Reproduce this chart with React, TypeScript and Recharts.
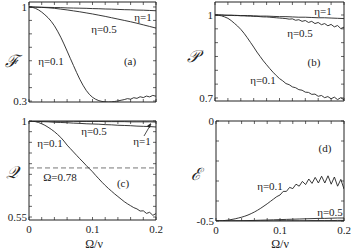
import React from 'react';
import { LineChart, Line, XAxis, YAxis, ReferenceArea, ReferenceLine } from 'recharts';

// x grids (Ω/ν)
const xs = [0, 0.01, 0.02, 0.03, 0.04, 0.05, 0.06, 0.07, 0.08, 0.09, 0.1, 0.11, 0.12, 0.13, 0.14, 0.15, 0.16, 0.17, 0.18, 0.19, 0.2];
const xsFine = [
  0, 0.005, 0.01, 0.015, 0.02, 0.025, 0.03, 0.035, 0.04, 0.045, 0.05, 0.055, 0.06, 0.065, 0.07, 0.075, 0.08, 0.085, 0.09, 0.095,
  0.1, 0.105, 0.11, 0.115, 0.12, 0.125, 0.13, 0.135, 0.14, 0.145, 0.15, 0.155, 0.16, 0.165, 0.17, 0.175, 0.18, 0.185, 0.19, 0.195, 0.2,
];
const xTicks = [0, 0.02, 0.04, 0.06, 0.08, 0.1, 0.12, 0.14, 0.16, 0.18, 0.2];
const xTickLabels: [number, string][] = [[0, '0'], [0.1, '0.1'], [0.2, '0.2']];

// (a) F
const aEta1 = [1, 0.999, 0.998, 0.997, 0.996, 0.995, 0.993, 0.992, 0.991, 0.99, 0.988, 0.987, 0.985, 0.984, 0.982, 0.98, 0.979, 0.977, 0.976, 0.974, 0.972];
const aEta05 = [1, 0.999, 0.997, 0.994, 0.99, 0.984, 0.978, 0.971, 0.964, 0.956, 0.948, 0.939, 0.93, 0.92, 0.91, 0.9, 0.89, 0.879, 0.867, 0.855, 0.843];
const aEta01 = [
  1, 0.998, 0.99, 0.978, 0.962, 0.942, 0.92, 0.893, 0.86, 0.82, 0.775, 0.725, 0.672, 0.618, 0.565, 0.512, 0.462, 0.418, 0.38, 0.35,
  0.328, 0.313, 0.303, 0.297, 0.294, 0.293, 0.294, 0.297, 0.301, 0.306, 0.311, 0.318, 0.314, 0.325, 0.32, 0.332, 0.326, 0.337, 0.331, 0.342, 0.336,
];
const aTicks = [0.3, 0.4, 0.5, 0.6, 0.7, 0.8, 0.9, 1];

// (b) P
const bEta1 = [1, 1, 0.999, 0.999, 0.998, 0.998, 0.997, 0.996, 0.996, 0.995, 0.994, 0.994, 0.993, 0.992, 0.992, 0.991, 0.99, 0.99, 0.989, 0.988, 0.987];
const bEta05 = [
  1, 1, 1, 0.999, 0.999, 0.999, 0.998, 0.998, 0.997, 0.997, 0.996, 0.996, 0.995, 0.995, 0.994, 0.993, 0.993, 0.992, 0.991, 0.99,
  0.989, 0.988, 0.987, 0.985, 0.986, 0.981, 0.983, 0.977, 0.98, 0.973, 0.977, 0.969, 0.973, 0.965, 0.969, 0.961, 0.966, 0.957, 0.962, 0.951, 0.956,
];
const bEta01 = [
  1, 0.999, 0.997, 0.993, 0.988, 0.98, 0.97, 0.96, 0.948, 0.934, 0.918, 0.901, 0.884, 0.866, 0.85, 0.834, 0.82, 0.806, 0.793, 0.781,
  0.77, 0.762, 0.752, 0.748, 0.74, 0.737, 0.73, 0.728, 0.721, 0.72, 0.713, 0.714, 0.706, 0.709, 0.701, 0.705, 0.697, 0.703, 0.694, 0.701, 0.693,
];
const bTicks = [0.7, 0.75, 0.8, 0.85, 0.9, 0.95, 1];

// (c) Q
const cEta1 = [1, 1, 1, 1, 0.999, 0.999, 0.999, 0.999, 0.998, 0.998, 0.998, 0.998, 0.997, 0.997, 0.997, 0.997, 0.996, 0.996, 0.996, 0.996, 0.995];
const cEta05 = [1, 0.999, 0.997, 0.996, 0.994, 0.993, 0.992, 0.99, 0.989, 0.987, 0.986, 0.985, 0.983, 0.982, 0.98, 0.979, 0.978, 0.976, 0.975, 0.974, 0.972];
const cEta01 = [
  1, 0.999, 0.997, 0.993, 0.987, 0.98, 0.971, 0.961, 0.95, 0.937, 0.923, 0.906, 0.887, 0.871, 0.855, 0.839, 0.823, 0.808, 0.792, 0.777,
  0.762, 0.745, 0.729, 0.713, 0.698, 0.684, 0.671, 0.658, 0.646, 0.634, 0.622, 0.612, 0.603, 0.594, 0.588, 0.578, 0.579, 0.567, 0.572, 0.558, 0.566,
];
const cTicks = [0.55, 0.6, 0.65, 0.7, 0.75, 0.8, 0.85, 0.9, 0.95, 1];

// (d) E
const dEta1 = [-0.5, -0.5, -0.5, -0.5, -0.5, -0.5, -0.5, -0.5, -0.5, -0.5, -0.499, -0.499, -0.499, -0.499, -0.499, -0.498, -0.498, -0.498, -0.498, -0.497, -0.497];
const dEta05 = [-0.5, -0.5, -0.5, -0.499, -0.499, -0.498, -0.497, -0.496, -0.495, -0.494, -0.493, -0.492, -0.491, -0.49, -0.489, -0.488, -0.487, -0.487, -0.486, -0.485, -0.485];
const dEta01 = [
  -0.5, -0.5, -0.499, -0.497, -0.495, -0.492, -0.489, -0.485, -0.481, -0.476, -0.47, -0.463, -0.455, -0.446, -0.436, -0.425, -0.414, -0.402, -0.39, -0.378,
  -0.37, -0.352, -0.352, -0.332, -0.338, -0.316, -0.326, -0.302, -0.318, -0.29, -0.312, -0.282, -0.31, -0.276, -0.31, -0.274, -0.316, -0.28, -0.326, -0.292, -0.34,
];
const dTicks = [-0.5, -0.4, -0.3, -0.2, -0.1, 0];

const FONT = '"Liberation Serif", "DejaVu Serif", serif';
const INK = '#222';

type Box = { x0: number; x1: number; y0: number; y1: number };

const mk = (x: number[], y: number[]) => x.map((v, i) => ({ x: v, y: y[i] }));
const findLabel = (list: [number, string][], v: number) => list.find((l) => Math.abs(l[0] - v) < 1e-9);

interface PanelProps {
  box: Box;
  domain: [number, number];
  yTicks: number[];
  yLabels: [number, string][];
  showX: boolean;
  series: { x: number; y: number }[][];
  children?: React.ReactNode;
}

function Panel({ box, domain, yTicks, yLabels, showX, series, children }: PanelProps) {
  const xTick = (p: any) => {
    const x = p.x;
    const lab = showX ? findLabel(xTickLabels, p.payload.value) : undefined;
    return (
      <g>
        <line x1={x} x2={x} y1={box.y1} y2={box.y1 - 3} stroke={INK} strokeWidth={0.7} />
        <line x1={x} x2={x} y1={box.y0} y2={box.y0 + 3} stroke={INK} strokeWidth={0.7} />
        {lab && (
          <text x={x} y={box.y1 + 13} textAnchor="middle" fontSize={11} fontFamily={FONT} fill={INK}>
            {lab[1]}
          </text>
        )}
      </g>
    );
  };
  const yTick = (p: any) => {
    const y = p.y;
    const lab = findLabel(yLabels, p.payload.value);
    return (
      <g>
        <line x1={box.x0} x2={box.x0 + 3} y1={y} y2={y} stroke={INK} strokeWidth={0.7} />
        <line x1={box.x1} x2={box.x1 - 3} y1={y} y2={y} stroke={INK} strokeWidth={0.7} />
        {lab && (
          <text x={box.x0 - 2} y={y + 4} textAnchor="end" fontSize={11} fontFamily={FONT} fill={INK}>
            {lab[1]}
          </text>
        )}
      </g>
    );
  };
  return (
    <div style={{ position: 'absolute', left: 0, top: 0 }}>
      <LineChart
        width={354}
        height={250}
        margin={{ left: box.x0 - 1, right: 354 - box.x1, top: box.y0, bottom: 250 - box.y1 - 1 }}
      >
        <XAxis type="number" dataKey="x" domain={[0, 0.2]} ticks={xTicks} height={1} axisLine={false} tickLine={false} tick={xTick} allowDataOverflow interval={0} />
        <YAxis type="number" dataKey="y" domain={domain} ticks={yTicks} width={1} axisLine={false} tickLine={false} tick={yTick} allowDataOverflow interval={0} />
        <ReferenceArea x1={0} x2={0.2} y1={domain[0]} y2={domain[1]} fill="none" stroke={INK} strokeWidth={1} />
        {children}
        {series.map((s, i) => (
          <Line key={i} data={s} dataKey="y" type="linear" dot={false} stroke={INK} strokeWidth={0.9} isAnimationActive={false} />
        ))}
      </LineChart>
    </div>
  );
}

const txt = { fontFamily: FONT, fontSize: 11, fill: INK } as const;

export default function App() {
  return (
    <div style={{ position: 'absolute', left: 0, top: 0, width: 354, height: 250, background: '#fff', overflow: 'hidden' }}>
      <Panel
        box={{ x0: 29, x1: 156, y0: 2, y1: 102 }}
        domain={[0.293, 1.037]}
        yTicks={aTicks}
        yLabels={[[1, '1'], [0.3, '0.3']]}
        showX={false}
        series={[mk(xs, aEta1), mk(xs, aEta05), mk(xsFine, aEta01)]}
      />
      <Panel
        box={{ x0: 215, x1: 344, y0: 2, y1: 101 }}
        domain={[0.689, 1.047]}
        yTicks={bTicks}
        yLabels={[[1, '1'], [0.7, '0.7']]}
        showX={false}
        series={[mk(xs, bEta1), mk(xsFine, bEta05), mk(xsFine, bEta01)]}
      />
      <Panel
        box={{ x0: 29, x1: 156, y0: 121, y1: 220 }}
        domain={[0.536, 1.0]}
        yTicks={cTicks}
        yLabels={[[1, '1'], [0.55, '0.55']]}
        showX={true}
        series={[mk(xs, cEta1), mk(xs, cEta05), mk(xsFine, cEta01)]}
      >
        <ReferenceLine y={0.78} stroke="#777" strokeDasharray="5 3" strokeWidth={1} />
      </Panel>
      <Panel
        box={{ x0: 216, x1: 344, y0: 121, y1: 221 }}
        domain={[-0.5, 0]}
        yTicks={dTicks}
        yLabels={[[0, '0'], [-0.5, '-0.5']]}
        showX={true}
        series={[mk(xs, dEta1), mk(xs, dEta05), mk(xsFine, dEta01)]}
      />
      <svg width={354} height={250} style={{ position: 'absolute', left: 0, top: 0 }}>
        {/* axis symbols */}
        <text x={12} y={67} textAnchor="middle" fontSize={17} fontStyle="italic" fontFamily={FONT} fill={INK}>ℱ</text>
        <text x={193} y={62} textAnchor="middle" fontSize={17} fontStyle="italic" fontFamily={FONT} fill={INK}>𝒫</text>
        <text x={12} y={178} textAnchor="middle" fontSize={17} fontStyle="italic" fontFamily={FONT} fill={INK}>𝒬</text>
        <text x={196} y={180} textAnchor="middle" fontSize={17} fontStyle="italic" fontFamily={FONT} fill={INK}>ℰ</text>
        {/* (a) */}
        <text x={143} y={21} textAnchor="middle" {...txt}>η=1</text>
        <text x={104} y={33} textAnchor="middle" {...txt}>η=0.5</text>
        <text x={51} y={65} textAnchor="middle" {...txt}>η=0.1</text>
        <text x={130} y={65} textAnchor="middle" {...txt}>(a)</text>
        {/* (b) */}
        <text x={323} y={15} textAnchor="middle" {...txt}>η=1</text>
        <text x={300} y={37} textAnchor="middle" {...txt}>η=0.5</text>
        <text x={314} y={66} textAnchor="middle" {...txt}>(b)</text>
        <text x={263} y={84} textAnchor="middle" {...txt}>η=0.1</text>
        {/* (c) */}
        <text x={94} y={135} textAnchor="middle" {...txt}>η=0.5</text>
        <text x={142} y={145} textAnchor="middle" {...txt}>η=1</text>
        <line x1={144} y1={136} x2={151} y2={124} stroke={INK} strokeWidth={0.8} />
        <path d="M151,123 L147,126 L150,128 Z" fill={INK} />
        <text x={50} y={147} textAnchor="middle" {...txt}>η=0.1</text>
        <text x={60} y={181} textAnchor="middle" {...txt}>Ω=0.78</text>
        <text x={123} y={187} textAnchor="middle" {...txt}>(c)</text>
        {/* (d) */}
        <text x={325} y={152} textAnchor="middle" {...txt}>(d)</text>
        <text x={270} y={190} textAnchor="middle" {...txt}>η=0.1</text>
        <text x={330} y={216} textAnchor="middle" {...txt}>η=0.5</text>
        {/* x labels */}
        <text x={94} y={248} textAnchor="middle" fontSize={12} fontFamily={FONT} fill={INK}>Ω/ν</text>
        <text x={280} y={248} textAnchor="middle" fontSize={12} fontFamily={FONT} fill={INK}>Ω/ν</text>
      </svg>
    </div>
  );
}
